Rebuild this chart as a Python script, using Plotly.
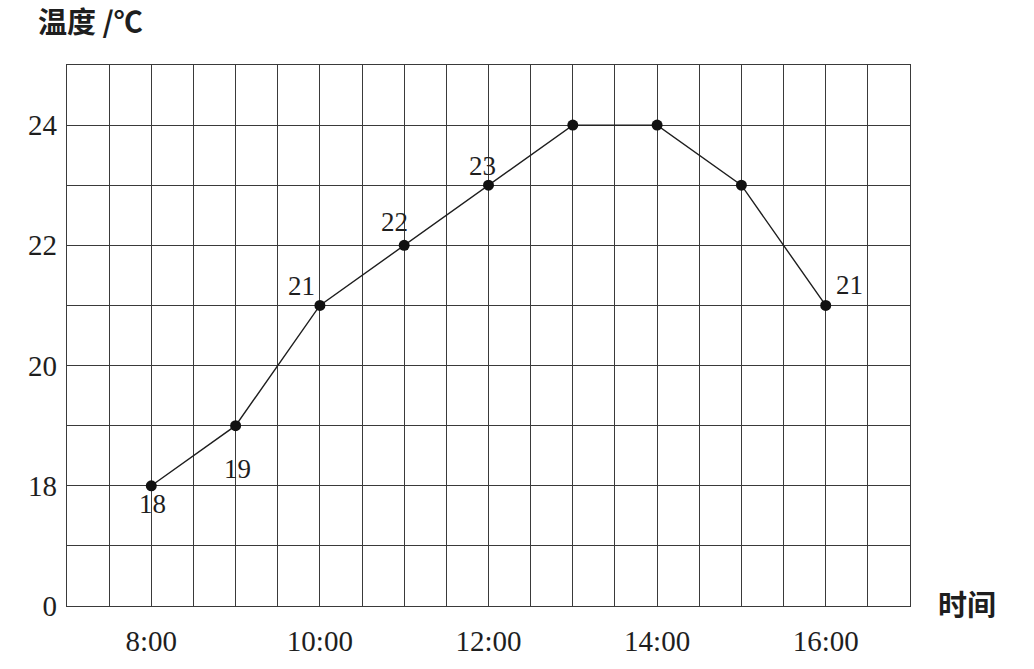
import plotly.graph_objects as go

hours = [8, 9, 10, 11, 12, 13, 14, 15, 16]
temps = [18, 19, 21, 22, 23, 24, 24, 23, 21]
x_tick_vals = [8, 10, 12, 14, 16]
x_tick_text = ["8:00", "10:00", "12:00", "14:00", "16:00"]
# axis is broken: "0" is drawn one row below 18
y_tick_vals = [16, 18, 20, 22, 24]
y_tick_text = ["0", "18", "20", "22", "24"]
labeled_idx = [0, 1, 2, 3, 4, 8]
label_shift = {0: (1, -18), 1: (2, -43), 2: (-18, 19), 3: (-10, 23), 4: (-6, 19), 8: (24, 20)}

ink = "#1e1e1e"
fig = go.Figure()
fig.add_trace(go.Scatter(
    x=hours, y=temps, mode="lines+markers",
    line=dict(color=ink, width=1.4),
    marker=dict(color="#111111", size=11),
    hoverinfo="skip", showlegend=False,
))

for i in labeled_idx:
    dx, dy = label_shift[i]
    fig.add_annotation(x=hours[i], y=temps[i], text=str(temps[i]), showarrow=False,
                       xshift=dx, yshift=dy,
                       font=dict(family="Liberation Serif", size=27, color=ink))

fig.add_annotation(xref="paper", yref="paper", x=-0.036, y=1.083, xanchor="left", yanchor="middle",
                   text="温度 /℃", showarrow=False, borderpad=0,
                   font=dict(family="Noto Sans CJK SC", size=29, color=ink, weight="bold"))
fig.add_annotation(xref="paper", yref="paper", x=1.031, y=0.005, xanchor="left", yanchor="middle",
                   text="时间", showarrow=False,
                   font=dict(family="Noto Sans CJK SC", size=29, color=ink, weight="bold"))

grid = "#3a3a3a"
fig.update_xaxes(range=[7, 17], tickvals=x_tick_vals, ticktext=x_tick_text,
                 showgrid=True, gridcolor=grid, gridwidth=1.3,
                 minor=dict(dtick=0.5, tick0=7, showgrid=True, gridcolor=grid, gridwidth=1.3),
                 showline=True, linecolor=grid, linewidth=1.3, mirror=True,
                 zeroline=False, ticks="", ticklabelstandoff=9,
                 tickfont=dict(family="Liberation Serif", size=29, color=ink))
fig.update_yaxes(range=[16, 25], tickvals=y_tick_vals, ticktext=y_tick_text,
                 showgrid=True, gridcolor=grid, gridwidth=1.3,
                 minor=dict(dtick=1, tick0=16, showgrid=True, gridcolor=grid, gridwidth=1.3),
                 showline=True, linecolor=grid, linewidth=1.3, mirror=True,
                 zeroline=False, ticks="", ticklabelstandoff=3,
                 tickfont=dict(family="Liberation Serif", size=29, color=ink))

fig.update_layout(width=1034, height=669, margin=dict(l=67, r=124, t=65, b=63),
                  paper_bgcolor="white", plot_bgcolor="white")
# remove the page's default body margin so the figure fills the window exactly
fig.write_html("out.html", config={"displayModeBar": False},
               post_script="document.body.style.margin='0';document.body.style.overflow='hidden';")
